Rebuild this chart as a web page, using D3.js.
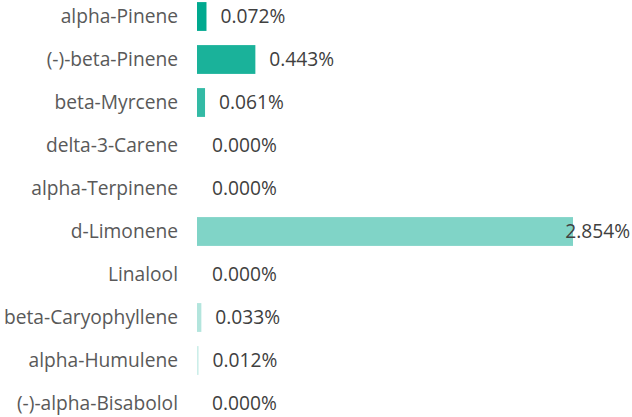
<!doctype html>
<html>
<head>
  <meta charset="utf-8">
  <title>Terpenes</title>
  <style>
    body { margin: 0; background: #fff; }
    .label text { font-family: 'Open Sans', sans-serif; font-size: 19.2px; fill: #595959; }
    .value { font-family: 'Open Sans', sans-serif; font-size: 19.2px; fill: #404040; }
  </style>
</head>
<body>
  <div id="chart"></div>
  <script src="https://cdnjs.cloudflare.com/ajax/libs/d3/7.8.5/d3.min.js"></script>
  <script>
    var compounds = ["alpha-Pinene", "(-)-beta-Pinene", "beta-Myrcene", "delta-3-Carene", "alpha-Terpinene",
      "d-Limonene", "Linalool", "beta-Caryophyllene", "alpha-Humulene", "(-)-alpha-Bisabolol"];
    var percents = [0.072, 0.443, 0.061, 0.000, 0.000, 2.854, 0.000, 0.033, 0.012, 0.000];

    var width = 632, height = 417;
    var margin = { top: 0, right: 60, left: 197, bottom: 0 };

    var data = compounds.map((c, i) => ({ name: c, value: percents[i], i: i }));

    var x = d3.scaleLinear().domain([0, d3.max(percents)]).range([margin.left, 573]);
    var y = d3.scaleBand().domain(compounds).range([-5, 425]).paddingInner(0.33).paddingOuter(0.165);
    var color = d3.scaleLinear().domain([0, 10]).range(["#00a98f", "#ffffff"]);

    var svg = d3.select("#chart").append("svg").attr("width", width).attr("height", height);

    svg.append("g")
      .attr("class", "label")
      .attr("transform", "translate(" + (margin.left - 19) + ",0)")
      .call(d3.axisLeft(y).tickSize(0).tickPadding(0))
      .call(g => g.select(".domain").remove());

    svg.append("g")
      .selectAll("rect")
      .data(data)
      .join("rect")
      .attr("x", x(0))
      .attr("y", d => y(d.name))
      .attr("width", d => x(d.value) - x(0))
      .attr("height", y.bandwidth())
      .attr("fill", d => color(d.i));

    svg.append("g")
      .selectAll("text")
      .data(data)
      .join("text")
      .attr("class", "value")
      .attr("y", d => y(d.name) + y.bandwidth() / 2)
      .attr("dy", "0.35em")
      .text(d => d.value.toFixed(3) + "%")
      .each(function (d) {
        var w = this.getComputedTextLength();
        var px = x(d.value) + (d.value > 0 ? 14 : 15);
        if (px + w > width - 2) px = width - 2 - w;
        d3.select(this).attr("x", px);
      });
  </script>
</body>
</html>
